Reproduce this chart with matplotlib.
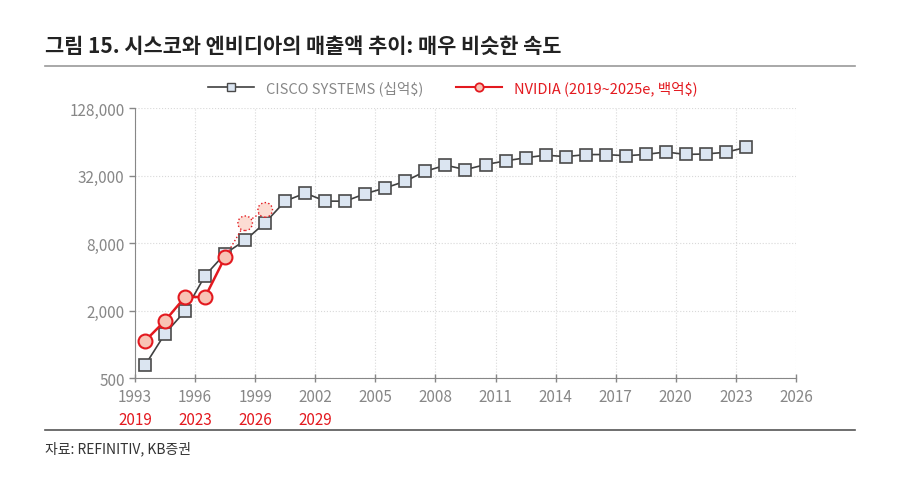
import matplotlib
matplotlib.use('Agg')
import matplotlib.pyplot as plt
from matplotlib.lines import Line2D
from matplotlib.ticker import FixedLocator, FuncFormatter
import numpy as np

plt.rcParams['font.family'] = ['Noto Sans CJK KR', 'DejaVu Sans']

# Cisco fiscal-year revenue (plotted in $mn on the log axis)
cisco_years = list(range(1993, 2024))
cisco_sales = [649, 1243, 1979, 4096, 6440, 8459, 12154, 18928, 22293, 18915,
               18878, 22045, 24801, 28484, 34922, 39540, 36117, 40040, 43218,
               46061, 48607, 47142, 49161, 49247, 48005, 49330, 51904, 49301,
               49818, 51557, 56998]

# NVIDIA 2019~2025e, aligned to the first Cisco years
nvidia_years = ['2019', '2020', '2021', '2022', '2023', '2024e', '2025e']
nvidia_sales = [1070, 1620, 2640, 2640, 6000, 12000, 15800]
nvidia_actual = 5   # first 5 are actual, rest estimates

x_ticks = list(range(1993, 2027, 3))
nvidia_tick_labels = ['2019', '2023', '2026', '2029']
y_ticks = [500, 2000, 8000, 32000, 128000]

RED = '#e3191f'
GRAY = '#878787'

fig = plt.figure(figsize=(9, 4.89), dpi=100)
ax = fig.add_axes([0.15, 0.2249, 0.7344, 0.5522])

cx = np.array(cisco_years) + 0.5
nx = cx[:len(nvidia_sales)]

ax.plot(cx, cisco_sales, color='#404040', lw=1.2, marker='s', ms=8,
        mfc='#dbe5f1', mec='#4a4a4a', mew=1.2, zorder=3)

# estimate part (dotted)
ax.plot(nx[nvidia_actual - 1:], nvidia_sales[nvidia_actual - 1:], color=RED,
        lw=1.0, ls=':', zorder=4)
ax.scatter(nx[nvidia_actual:], nvidia_sales[nvidia_actual:], s=110,
           facecolor='#fcdcd3', edgecolor=RED, linewidths=1.0,
           linestyle=':', zorder=5)
ax.plot(nx[:nvidia_actual], nvidia_sales[:nvidia_actual], color=RED, lw=1.8,
        marker='o', ms=10, mfc='#f8c3b5', mec=RED, mew=1.5, zorder=6)

ax.set_yscale('log', base=2)
ax.set_ylim(500, 128000)
ax.set_xlim(1993, 2026)
ax.yaxis.set_major_locator(FixedLocator(y_ticks))
ax.yaxis.set_minor_locator(FixedLocator([]))
ax.yaxis.set_major_formatter(FuncFormatter(lambda v, p: f'{v:,.0f}'))
ax.set_xticks(x_ticks)
ax.set_xticklabels([str(y) for y in x_ticks])

ax.tick_params(axis='both', colors=GRAY, labelcolor=GRAY, labelsize=11,
               length=4, width=1)
ax.tick_params(axis='x', direction='inout', length=6, pad=4)
for lab in ax.get_xticklabels() + ax.get_yticklabels():
    lab.set_fontweight('light')
for s in ['top', 'right']:
    ax.spines[s].set_visible(False)
for s in ['left', 'bottom']:
    ax.spines[s].set_color(GRAY)
ax.grid(True, color='#d9d9d9', ls=':', lw=0.8)
ax.set_axisbelow(True)

for yr, lab in zip(x_ticks, nvidia_tick_labels):
    ax.text(yr, -0.152, lab, transform=ax.get_xaxis_transform(), color=RED,
            fontsize=11, fontweight='light', ha='center', va='center')

handles = [Line2D([], [], color='#404040', lw=1.2, marker='s', ms=6,
                  mfc='#dbe5f1', mec='#4a4a4a'),
           Line2D([], [], color=RED, lw=1.5, marker='o', ms=6,
                  mfc='#f8c3b5', mec=RED, mew=1.3)]
fig.legend(handles, ['CISCO SYSTEMS (십억$)', 'NVIDIA (2019~2025e, 백억$)'],
           loc='center', bbox_to_anchor=(0.503, 0.818), ncol=2,
           frameon=False, fontsize=10.5, handlelength=3.2, columnspacing=2.2,
           labelcolor=[GRAY, RED], prop={'weight': 'light', 'size': 10.5})

fig.text(0.05, 0.905, '그림 15. 시스코와 엔비디아의 매출액 추이: 매우 비슷한 속도',
         fontsize=15, fontweight='bold', color='#222222', va='center')
fig.add_artist(Line2D([0.05, 0.95], [0.863, 0.863], color='#999999', lw=1.2))
fig.add_artist(Line2D([0.05, 0.95], [0.119, 0.119], color='#555555', lw=1.2))
fig.text(0.05, 0.081, '자료: REFINITIV, KB증권', fontsize=10, color='#333333',
         va='center')

fig.savefig('out.png', dpi=100)
